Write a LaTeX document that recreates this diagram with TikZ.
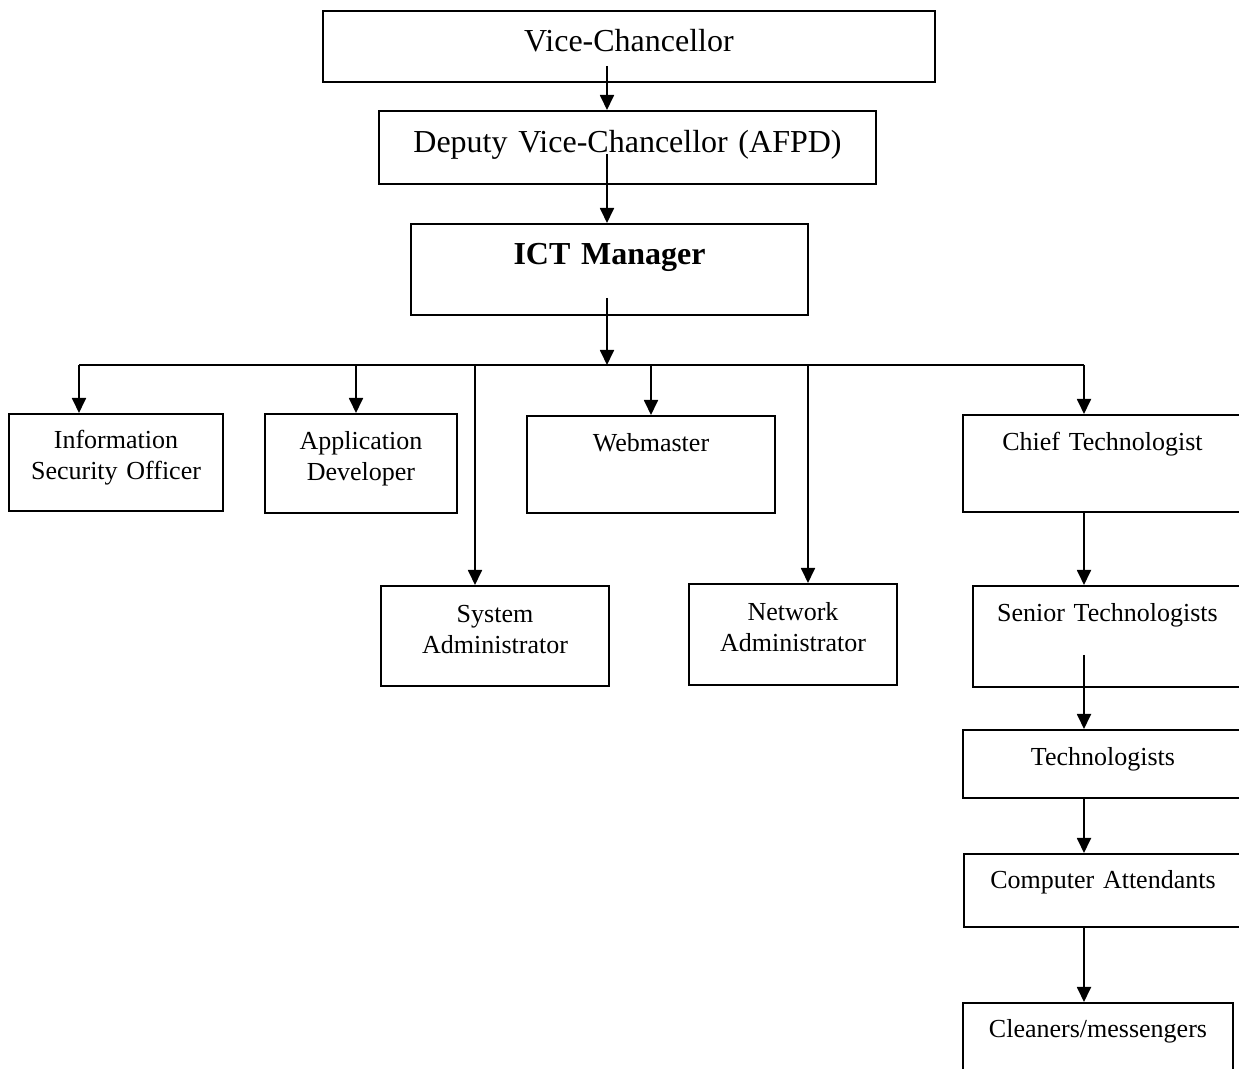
\documentclass[tikz,border=0pt]{standalone}
\usepackage{fontspec}
\setmainfont{Liberation Serif}
\usetikzlibrary{arrows.meta}
\tikzset{
  box/.style={draw, line width=1pt, anchor=north, inner sep=0pt, align=center, font=\fontsize{13}{15.25}\selectfont},
  bigbox/.style={box, font=\fontsize{16}{19}\selectfont},
  arr/.style={-{Triangle[width=7pt,length=7.5pt]}, line width=0.9pt},
}
\begin{document}
\begin{tikzpicture}[x=0.5pt, y=-0.5pt]
\useasboundingbox (0,0) rectangle (1239,1069);
\clip (0,0) rectangle (1239,1069);
% head of the chain
\node[bigbox, text width=306pt, text height=20.5pt, text depth=15pt] (vc) at (629,10) {Vice-Chancellor};
\node[bigbox, text width=248.5pt, text height=21pt, text depth=15.5pt] (dvc) at (627.5,110) {Deputy Vice-Chancellor (AFPD)};
\node[bigbox, text width=198.5pt, text height=20.5pt, text depth=25pt, font=\fontsize{16}{19}\selectfont\bfseries] (ict) at (609.5,223) {ICT Manager};
% units under the ICT Manager
\node[box, text width=107pt, text height=17.5pt, text depth=31pt] (iso) at (116,413) {Information\\Security Officer};
\node[box, text width=96pt, text height=18pt, text depth=31.5pt] (appdev) at (361,413) {Application\\Developer};
\node[box, text width=124pt, text height=18pt, text depth=30.5pt] (web) at (651,415) {Webmaster};
\node[box, text width=139.5pt, text height=18pt, text depth=30.5pt] (chief) at (1102.5,414) {Chief Technologist};
\node[box, text width=114pt, text height=18.5pt, text depth=31.5pt] (sysadm) at (495,585) {System\\Administrator};
\node[box, text width=104pt, text height=18.5pt, text depth=32pt] (netadm) at (793,583) {Network\\Administrator};
% technical staff
\node[box, text width=134.5pt, text height=18pt, text depth=32.5pt] (senior) at (1107.5,585) {Senior Technologists};
\node[box, text width=140pt, text height=18pt, text depth=16pt] (tech) at (1103,729) {Technologists};
\node[box, text width=139pt, text height=17.5pt, text depth=19pt] (attend) at (1103,853) {Computer Attendants};
\node[box, text width=135pt, text height=17pt, text depth=32pt] (clean) at (1098,1002) {Cleaners/messengers};

% connectors
\coordinate (trunk) at ([xshift=-1.25pt]ict.south);
\coordinate (bus) at ([yshift=-24.5pt]trunk);
\coordinate (spine) at ([xshift=-9.25pt]chief.south);
\draw[arr] ([yshift=8.5pt]vc.south -| trunk) -- (dvc.north -| trunk);
\draw[arr] ([yshift=15.5pt]dvc.south -| trunk) -- (ict.north -| trunk);
\draw[arr] ([yshift=9pt]trunk) -- (bus);
\draw[line width=0.9pt] ([xshift=-18.5pt]iso.north |- bus) -- (spine |- bus);
\foreach \n/\dx in {iso/-18.5, appdev/-2.5, web/0, sysadm/-10, netadm/7.5, chief/-9.25}
  \draw[arr] ([xshift=\dx pt]\n.north |- bus) -- ([xshift=\dx pt]\n.north);
\draw[arr] (spine) -- (spine |- senior.north);
\draw[arr] ([yshift=16.5pt]senior.south -| spine) -- (spine |- tech.north);
\draw[arr] (tech.south -| spine) -- (spine |- attend.north);
\draw[arr] (attend.south -| spine) -- (spine |- clean.north);
\end{tikzpicture}
\end{document}
